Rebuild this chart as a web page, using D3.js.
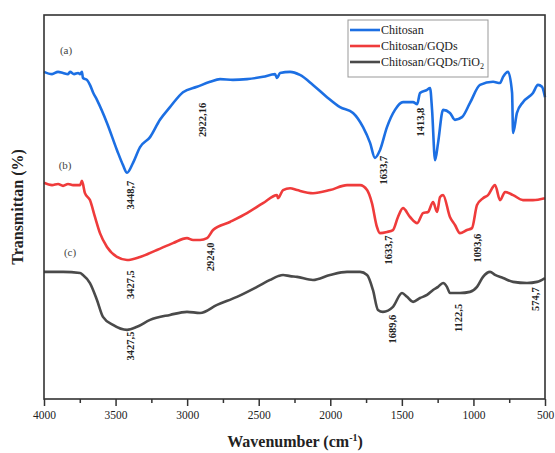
<!DOCTYPE html>
<html>
<head>
<meta charset="utf-8">
<script src="https://cdn.jsdelivr.net/npm/d3@7"></script>
<style>
  body { margin: 0; background: #fff; }
  svg { font-family: "Liberation Serif", "Times New Roman", serif; }
</style>
</head>
<body>
<div id="chart"></div>
<script>
// FTIR spectra, [wavenumber, transmittance]
var chitosan = [
  [4000,85.2],[3944,84.6],[3902,85.2],[3867,84.9],[3832,84.6],[3818,85.2],[3790,84.6],
  [3762,84.9],[3748,84.6],[3735,85.2],[3728,83.6],[3700,83.1],[3679,81.8],[3658,79.9],
  [3630,77.9],[3560,71.9],[3490,64.8],[3448,60.9],[3420,58.9],[3378,61.5],[3329,65.6],
  [3259,68.2],[3190,72.7],[3120,76.0],[3029,79.9],[2931,81.3],[2840,82.6],[2770,83.3],
  [2680,83.1],[2582,83.3],[2470,83.9],[2386,84.6],[2372,83.6],[2351,84.9],[2281,85.2],
  [2212,84.4],[2121,81.8],[2023,78.6],[1932,76.0],[1841,74.5],[1771,70.8],[1722,66.7],
  [1688,62.8],[1653,64.8],[1604,70.8],[1548,75.3],[1492,77.3],[1422,77.3],[1393,76.8],
  [1373,79.7],[1324,80.5],[1303,81.0],[1289,75.3],[1268,62.2],[1247,66.7],[1212,75.3],
  [1164,74.5],[1129,72.7],[1080,73.4],[1024,77.1],[954,81.8],[863,82.6],[814,82.3],
  [793,83.9],[758,85.2],[730,79.7],[723,69.3],[696,74.5],[654,77.3],[584,79.7],
  [549,81.8],[521,81.3],[500,78.6]
];

var chitosanGqds = [
  [4000,56.3],[3944,55.7],[3902,56.0],[3867,55.5],[3832,56.0],[3797,55.7],[3748,55.7],
  [3735,56.8],[3714,53.6],[3679,51.8],[3644,47.4],[3609,43.2],[3560,39.6],[3490,37.0],
  [3420,36.2],[3329,37.0],[3211,38.8],[3099,40.6],[3001,41.9],[2959,41.4],[2910,41.4],
  [2861,41.9],[2819,44.0],[2701,46.1],[2582,48.4],[2470,51.0],[2372,53.1],[2365,52.3],
  [2330,54.4],[2281,54.9],[2232,54.4],[2121,53.6],[2002,54.4],[1883,55.7],[1792,55.7],
  [1743,54.4],[1709,51.0],[1674,44.8],[1653,43.2],[1604,43.5],[1562,44.0],[1527,47.4],
  [1492,49.7],[1443,47.4],[1393,45.8],[1352,48.4],[1317,48.7],[1282,51.3],[1254,48.7],
  [1233,52.6],[1212,53.1],[1164,47.4],[1129,45.3],[1094,43.2],[1045,44.0],[1010,44.5],
  [975,50.5],[933,52.3],[898,53.1],[849,55.7],[814,51.8],[779,53.9],[723,53.1],
  [654,51.8],[584,51.8],[500,52.3]
];

var chitosanGqdsTio2 = [
  [4000,33.1],[3867,33.1],[3748,32.8],[3728,32.3],[3679,30.2],[3630,25.8],[3588,21.4],
  [3518,19.3],[3420,18.0],[3350,18.8],[3259,20.6],[3120,21.9],[3001,22.7],[2910,22.4],
  [2791,24.5],[2652,26.6],[2512,29.2],[2421,31.0],[2365,32.0],[2330,32.3],[2281,32.0],
  [2232,31.8],[2121,31.0],[2002,32.3],[1883,33.1],[1792,33.1],[1743,32.3],[1702,28.4],
  [1667,23.2],[1632,22.7],[1562,24.0],[1499,27.6],[1464,26.6],[1422,25.3],[1373,26.3],
  [1324,27.1],[1282,28.4],[1247,29.2],[1212,30.2],[1185,29.2],[1164,27.6],[1094,27.6],
  [1024,27.9],[975,29.2],[933,31.8],[884,33.1],[849,32.3],[793,31.5],[723,30.5],
  [626,30.2],[556,30.5],[500,31.5]
];

var seriesNames = ["Chitosan", "Chitosan/GQDs", "Chitosan/GQDs/TiO"];
var seriesData = [chitosan, chitosanGqds, chitosanGqdsTio2];
var seriesColors = ["#1c6fe3", "#ef3b3b", "#4a4a4a"];

// peak labels: [text, wavenumber, transmittance] (text centre)
var peakLabels = [
  ["3448,7", 3399, 53.1], ["2922,16", 2896, 72.7], ["1633,7", 1632, 59.6], ["1413,8", 1373, 72.1],
  ["3427,5", 3399, 29.8], ["2924,0", 2840, 37.0], ["1633,7", 1597, 38.8], ["1093,6", 975, 39.3],
  ["3427,5", 3399, 13.8], ["1689,6", 1569, 18.2], ["1122,5", 1108, 21.1], ["574,7", 570, 26.0]
];
var curveTags = [["(a)", 3846, 90.9], ["(b)", 3853, 60.9], ["(c)", 3818, 38.3]];

var xTicks = [4000, 3500, 3000, 2500, 2000, 1500, 1000, 500];
var xMinorTicks = [3750, 3250, 2750, 2250, 1750, 1250, 750];

var margin = {top: 15, right: 10, bottom: 54, left: 44},
    width = 555 - margin.left - margin.right,
    height = 453 - margin.top - margin.bottom;

var svg = d3.select("#chart")
  .append("svg")
    .attr("width", 555)
    .attr("height", 453)
  .append("g")
    .attr("transform", "translate(" + margin.left + "," + margin.top + ")");

var x = d3.scaleLinear().domain([4000, 500]).range([0, width]);
var y = d3.scaleLinear().domain([0, 100]).range([height, 0]);

// minor ticks
svg.append("g")
  .attr("transform", "translate(0," + height + ")")
  .call(d3.axisBottom(x).tickValues(xMinorTicks).tickSize(4).tickFormat(""))
  .call(function(g) { g.select(".domain").remove(); })
  .selectAll("line").attr("stroke", "#333").attr("stroke-width", 1.5);

// major ticks + labels
var xAxis = svg.append("g")
  .attr("transform", "translate(0," + height + ")")
  .call(d3.axisBottom(x).tickValues(xTicks).tickSize(7).tickSizeOuter(0).tickPadding(5).tickFormat(d3.format("d")));
xAxis.select(".domain").remove();
xAxis.selectAll("line").attr("stroke", "#333").attr("stroke-width", 1.5);
xAxis.selectAll("text")
  .attr("font-family", "Liberation Serif")
  .attr("font-size", "11.5px")
  .attr("fill", "#222");

// curves (smoothed a little, like the scanned spectra)
var line = d3.line()
  .curve(d3.curveMonotoneX)
  .x(function(d) { return x(d[0]); })
  .y(function(d) { return y(d[1]); });

seriesData.forEach(function(s, i) {
  svg.append("path")
    .datum(s)
    .attr("fill", "none")
    .attr("stroke", seriesColors[i])
    .attr("stroke-width", 2.6)
    .attr("stroke-linejoin", "round")
    .attr("d", line);
});

// frame
svg.append("rect")
  .attr("width", width)
  .attr("height", height)
  .attr("fill", "none")
  .attr("stroke", "#333")
  .attr("stroke-width", 1.6);

// peak labels
svg.selectAll(".peak")
  .data(peakLabels)
  .enter().append("text")
    .attr("class", "peak")
    .attr("transform", function(d) { return "translate(" + x(d[1]) + "," + y(d[2]) + ") rotate(-90)"; })
    .attr("text-anchor", "middle")
    .attr("dy", "0.35em")
    .attr("font-size", "10.5px")
    .attr("font-weight", "bold")
    .attr("fill", "#222")
    .text(function(d) { return d[0]; });

svg.selectAll(".tag")
  .data(curveTags)
  .enter().append("text")
    .attr("class", "tag")
    .attr("x", function(d) { return x(d[1]); })
    .attr("y", function(d) { return y(d[2]); })
    .attr("text-anchor", "middle")
    .attr("dy", "0.35em")
    .attr("font-size", "11px")
    .attr("fill", "#444")
    .text(function(d) { return d[0]; });

// legend
var legend = svg.append("g").attr("transform", "translate(304,5)");
legend.append("rect")
  .attr("width", 140).attr("height", 57)
  .attr("fill", "#fff").attr("stroke", "#999").attr("stroke-width", 1);
seriesNames.forEach(function(n, i) {
  var row = legend.append("g").attr("transform", "translate(0," + (10 + i * 16) + ")");
  row.append("line")
    .attr("x1", 2).attr("x2", 32).attr("y1", 0).attr("y2", 0)
    .attr("stroke", seriesColors[i]).attr("stroke-width", 2.6);
  var t = row.append("text")
    .attr("x", 33).attr("dy", "0.35em")
    .attr("font-size", "12px").attr("fill", "#222")
    .text(n);
  if (i == 2) t.append("tspan").attr("font-size", "8px").attr("dy", "3").text("2");
});

// axis titles
var xt = svg.append("text")
  .attr("x", 251).attr("y", height + 48)
  .attr("text-anchor", "middle")
  .attr("font-size", "16px").attr("font-weight", "bold").attr("fill", "#222")
  .text("Wavenumber (cm");
xt.append("tspan").attr("font-size", "10px").attr("dy", "-6").text("-1");
xt.append("tspan").attr("dy", "6").text(")");

svg.append("text")
  .attr("transform", "translate(-21," + (height / 2) + ") rotate(-90)")
  .attr("text-anchor", "middle")
  .attr("font-size", "16px").attr("font-weight", "bold").attr("fill", "#222")
  .text("Transmittan (%)");
</script>
</body>
</html>
